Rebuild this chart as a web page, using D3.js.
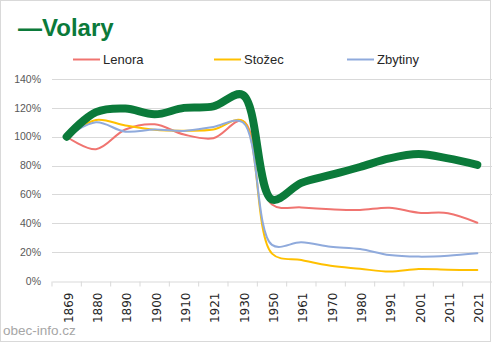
<html>
<head>
    <style>
        body {
            margin: 0;
            background: white;
            font-family: "Liberation Sans", Arial, sans-serif;
        }
    </style>
    <script src="https://cdn.jsdelivr.net/npm/d3@7"></script>
</head>
<body>
    <svg id="chart"></svg>
</body>
<script>
    // data (percent of 1869 population)
    let years = ["1869", "1880", "1890", "1900", "1910", "1921", "1930", "1950", "1961", "1970", "1980", "1991", "2001", "2011", "2021"]
    let volary = [100, 117, 119.5, 115.5, 120, 121, 129, 56.5, 68, 73.5, 79, 85, 88, 85, 80.5]
    let lenora = [100, 91.3, 105, 108.6, 101.5, 99, 111, 53, 51, 49.7, 49.2, 50.8, 47.3, 47, 40.4]
    let stozec = [100, 111.6, 107.8, 104.8, 104.2, 105, 111, 19, 14.6, 10.6, 8.5, 6.5, 8.3, 7.8, 7.6]
    let zbytiny = [100, 110, 103.5, 105, 104, 106.8, 110, 25, 26.8, 23.8, 22.2, 18, 16.9, 17.5, 19.2]
    let yTicks = [0, 20, 40, 60, 80, 100, 120, 140]

    let seriesNames = ["Lenora", "Stožec", "Zbytiny"]
    let seriesColors = ["#f07470", "#ffc000", "#8faadc"]

    let width = 492, height = 343
    let svg = d3.select("#chart").attr("width", width).attr("height", height)

    let x = d3.scaleBand().domain(years).range([52, 492])
    let y = d3.scaleLinear().domain([0, 140]).range([281, 79])
    let cx = d => x(d) + x.bandwidth() / 2

    // gridlines
    svg.append("g")
        .selectAll("line")
        .data(yTicks.filter(d => d > 0))
        .enter().append("line")
        .attr("x1", 52).attr("x2", 492)
        .attr("y1", d => Math.round(y(d)) + 0.5)
        .attr("y2", d => Math.round(y(d)) + 0.5)
        .attr("stroke", "#d9d9d9")

    // y labels
    svg.append("g")
        .selectAll("text")
        .data(yTicks)
        .enter().append("text")
        .attr("x", 41)
        .attr("y", d => y(d))
        .attr("dy", "0.35em")
        .attr("text-anchor", "end")
        .attr("font-size", 10.5)
        .attr("fill", "#595959")
        .text(d => d + "%")

    // x axis
    let xAxis = d3.axisBottom(x).tickSize(5).tickSizeOuter(0)
    let gx = svg.append("g")
        .attr("transform", "translate(0, 281.5)")
        .call(xAxis)
    gx.select(".domain").attr("stroke", "#d9d9d9")
    gx.selectAll(".tick line")
        .attr("stroke", "#d9d9d9")
        .attr("transform", `translate(${-x.bandwidth() / 2}, 0)`)
    gx.selectAll(".tick text")
        .attr("font-family", "DejaVu Sans")
        .attr("font-size", 12)
        .attr("fill", "#262626")
        .attr("text-anchor", "end")
        .attr("dominant-baseline", "central")
        .attr("transform", "translate(2, 11) rotate(-90)")
        .attr("x", 0).attr("y", 0).attr("dy", null)

    // lines (smoothed like the spreadsheet)
    let line = d3.line()
        .x((d, i) => cx(years[i]))
        .y(d => y(d))
        .curve(d3.curveCatmullRom.alpha(0.5))

    let allSeries = [lenora, stozec, zbytiny]
    allSeries.forEach((s, i) => {
        svg.append("path")
            .attr("d", line(s))
            .attr("fill", "none")
            .attr("stroke", seriesColors[i])
            .attr("stroke-width", 2)
            .attr("stroke-linecap", "round")
    })

    svg.append("path")
        .attr("d", line(volary))
        .attr("fill", "none")
        .attr("stroke", "#0b7a3a")
        .attr("stroke-width", 8)
        .attr("stroke-linecap", "round")
        .attr("stroke-linejoin", "round")

    // title
    svg.append("text")
        .attr("x", 18).attr("y", 35.5)
        .attr("font-size", 24)
        .attr("font-weight", "bold")
        .attr("fill", "#0b7a3a")
        .text("—Volary")

    // legend
    let legendX = [73, 214, 347]
    let legend = svg.selectAll("g.legend")
        .data(seriesNames)
        .enter().append("g")
        .attr("class", "legend")
        .attr("transform", (d, i) => `translate(${legendX[i]}, 59.5)`)
    legend.append("line")
        .attr("x1", 0).attr("x2", 27)
        .attr("stroke", (d, i) => seriesColors[i])
        .attr("stroke-width", 2)
    legend.append("text")
        .attr("x", 30).attr("dy", "0.35em")
        .attr("font-size", 13)
        .attr("fill", "#262626")
        .text(d => d)

    // source
    svg.append("text")
        .attr("x", 3).attr("y", 335)
        .attr("font-size", 13.5)
        .attr("fill", "#a6a6a6")
        .text("obec-info.cz")

    // chart border
    svg.append("rect")
        .attr("x", 0.5).attr("y", 0.5)
        .attr("width", 490).attr("height", 341)
        .attr("fill", "none")
        .attr("stroke", "#d9d9d9")
</script>
</html>
